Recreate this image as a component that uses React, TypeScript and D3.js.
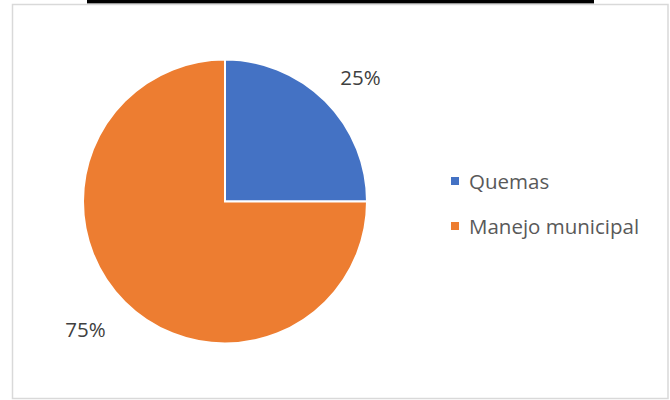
import React from "react";
import * as d3 from "d3";

const categories = ["Quemas", "Manejo municipal"];
const values = [25, 75];
const labels = ["25%", "75%"];
const colors = ["#4472C4", "#ED7D31"];

export default function App() {
  const W = 670, H = 400;
  const cx = 225, cy = 201.5, r = 142;
  const pie = d3.pie<number>().sort(null).value((d) => d)(values);
  const arc = d3.arc<d3.PieArcDatum<number>>().innerRadius(0).outerRadius(r);
  const labelArc = d3.arc<d3.PieArcDatum<number>>().innerRadius(186).outerRadius(186);
  const font = "'Open Sans', 'Noto Sans', sans-serif";
  const legendY = d3.scalePoint<string>().domain(categories).range([181, 226]);
  const offsets = [[4, 7], [-8, -4]];
  return (
    <svg width={W} height={H} style={{ position: "absolute", left: 0, top: 0, background: "#fff" }}>
      <rect x={87} y={0} width={507} height={3.5} fill="#000" />
      <rect x={12.5} y={4.5} width={655.5} height={394} fill="#fff" stroke="#d9d9d9" strokeWidth={1.5} />
      <g transform={`translate(${cx},${cy})`}>
        {pie.map((p, i) => (
          <path key={i} d={arc(p) || ""} fill={colors[i]} stroke="#fff" strokeWidth={2} />
        ))}
        {pie.map((p, i) => {
          const [x, y] = labelArc.centroid(p);
          return (
            <text key={i} x={x + offsets[i][0]} y={y + offsets[i][1]} textAnchor="middle" dominantBaseline="central"
              fontFamily={font} fontSize={20.5} fill="#404040">
              {labels[i]}
            </text>
          );
        })}
      </g>
      {categories.map((c, i) => (
        <g key={c} transform={`translate(451,${legendY(c)})`}>
          <rect x={0} y={-4} width={8} height={8} fill={colors[i]} />
          <text x={18} y={0} dominantBaseline="central" fontFamily={font} fontSize={20.5} fill="#595959">
            {c}
          </text>
        </g>
      ))}
    </svg>
  );
}
